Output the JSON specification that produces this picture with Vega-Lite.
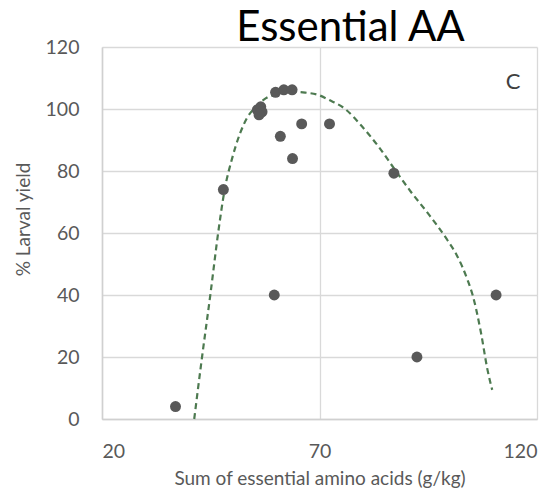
{
  "$schema": "https://vega.github.io/schema/vega-lite/v6.json",
  "width": 435,
  "height": 372,
  "autosize": {"type": "none"},
  "padding": {"left": 102, "top": 47, "right": 21, "bottom": 75},
  "background": "white",
  "title": {
    "text": "Essential AA",
    "font": "Lato",
    "fontSize": 42,
    "fontWeight": "normal",
    "color": "#000000",
    "anchor": "middle",
    "frame": "group",
    "dx": 31,
    "dy": 17
  },
  "config": {
    "view": {"stroke": null},
    "font": "Lato",
    "axis": {
      "labelFont": "Lato",
      "titleFont": "Lato",
      "labelColor": "#595959",
      "titleColor": "#595959",
      "titleFontWeight": "normal",
      "gridColor": "#d9d9d9",
      "gridWidth": 1.3,
      "domainColor": "#d0d0d0",
      "domainWidth": 1.5,
      "ticks": false
    }
  },
  "datasets": {
    "points": [
      {"x": 36.9, "y": 4},
      {"x": 47.9, "y": 74},
      {"x": 55.7, "y": 99.7},
      {"x": 56.5, "y": 100.7},
      {"x": 56.8, "y": 99.1},
      {"x": 56.1, "y": 98.1},
      {"x": 59.9, "y": 105.4},
      {"x": 61.8, "y": 106.2},
      {"x": 63.7, "y": 106.2},
      {"x": 59.6, "y": 40},
      {"x": 61.0, "y": 91.2},
      {"x": 63.8, "y": 84},
      {"x": 65.9, "y": 95.2},
      {"x": 72.3, "y": 95.2},
      {"x": 87.1, "y": 79.3},
      {"x": 92.4, "y": 20},
      {"x": 110.6, "y": 40}
    ],
    "trend": [
      {"x": 41.2, "y": 0},
      {"x": 43.0, "y": 20},
      {"x": 44.9, "y": 40},
      {"x": 46.7, "y": 60},
      {"x": 48.2, "y": 74},
      {"x": 49.9, "y": 84},
      {"x": 51.7, "y": 92},
      {"x": 53.3, "y": 97},
      {"x": 55.2, "y": 100.5},
      {"x": 57.7, "y": 103.5},
      {"x": 60.5, "y": 105},
      {"x": 63.5, "y": 105.6},
      {"x": 66.7, "y": 105.3},
      {"x": 69.8, "y": 104.5},
      {"x": 72.1, "y": 103},
      {"x": 75.9, "y": 100},
      {"x": 79.7, "y": 94.5},
      {"x": 83.5, "y": 88},
      {"x": 87.3, "y": 80.5},
      {"x": 91.0, "y": 73.3},
      {"x": 94.9, "y": 66.4},
      {"x": 99.5, "y": 57.5},
      {"x": 101.5, "y": 53},
      {"x": 104.0, "y": 45},
      {"x": 105.2, "y": 40},
      {"x": 107.1, "y": 28},
      {"x": 108.6, "y": 16},
      {"x": 109.7, "y": 9.4}
    ],
    "label": [{"x": 114.5, "y": 108.7, "t": "C"}]
  },
  "layer": [
    {
      "data": {"name": "trend"},
      "mark": {"type": "line", "color": "#4d7a50", "strokeWidth": 2.2, "strokeDash": [6, 4], "interpolate": "monotone"},
      "encoding": {
        "x": {
          "field": "x", "type": "quantitative",
          "scale": {"domain": [20, 120], "nice": false, "zero": false},
          "axis": {
            "values": [20, 70, 120],
            "title": "Sum of essential amino acids (g/kg)",
            "labelFontSize": 19.5,
            "titleFontSize": 19,
            "labelPadding": 23,
            "titlePadding": 9
          }
        },
        "y": {
          "field": "y", "type": "quantitative",
          "scale": {"domain": [0, 120], "nice": false},
          "axis": {
            "values": [0, 20, 40, 60, 80, 100, 120],
            "title": "% Larval yield",
            "labelFontSize": 19.5,
            "titleFontSize": 19,
            "labelPadding": 23,
            "titlePadding": 12,
            "titleY": 172
          }
        }
      }
    },
    {
      "data": {"name": "points"},
      "mark": {"type": "circle", "color": "#595959", "opacity": 1, "size": 120},
      "encoding": {
        "x": {"field": "x", "type": "quantitative"},
        "y": {"field": "y", "type": "quantitative"}
      }
    },
    {
      "data": {"name": "label"},
      "mark": {"type": "text", "font": "Lato", "fontSize": 22, "color": "#404040", "baseline": "middle", "align": "center"},
      "encoding": {
        "x": {"field": "x", "type": "quantitative"},
        "y": {"field": "y", "type": "quantitative"},
        "text": {"field": "t"}
      }
    }
  ]
}
